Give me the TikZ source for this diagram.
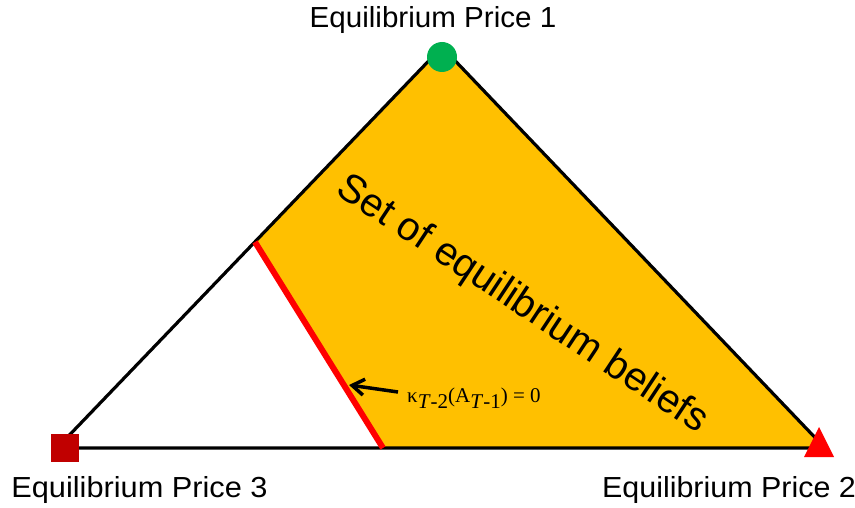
\documentclass[tikz,border=0pt]{standalone}
\usepackage{fontspec}
\setmainfont{Liberation Sans}
\newfontfamily\serifrm{Liberation Serif}
\usetikzlibrary{arrows.meta}
\definecolor{gold}{HTML}{FFC000}
\definecolor{mygreen}{HTML}{00B050}
\definecolor{darkred}{HTML}{C00000}
\definecolor{brightred}{HTML}{FF0000}
\tikzset{
  edge/.style={draw=black, line width=3.2pt, line join=miter},
  cutline/.style={draw=brightred, line width=6pt},
  pricelabel/.style={anchor=base, inner sep=0pt, font=\fontsize{29}{34}\selectfont},
  pointer/.style={draw=black, line width=3.5pt, -{Straight Barb[length=12pt, width=16pt, line width=3.5pt]}},
}
\begin{document}
\begin{tikzpicture}[x=1pt, y=-1pt]
\useasboundingbox (0,0) rectangle (855,508);
\coordinate (A) at (442,47);
\coordinate (L) at (57,448);
\coordinate (R) at (825,448);
\coordinate (P) at (255,242);
\coordinate (Q) at (383,448);
% shaded region
\fill[gold] (P) -- (A) -- (R) -- (Q) -- cycle;
% triangle
\draw[edge] (A) -- (L) -- (R) -- cycle;
% red cut line
\draw[cutline] (P) -- (Q);
% markers
\node[circle, fill=mygreen, minimum size=30pt, inner sep=0pt] (m1) at (442,57) {};
\node[rectangle, fill=darkred, minimum size=28pt, inner sep=0pt] (m3) at (65,448) {};
\fill[brightred] (819,427) -- (834,457) -- (804,457) -- cycle;
% labels
\node[pricelabel, xscale=1.02] (l1) at (433,28) {Equilibrium Price 1};
\node[pricelabel, xscale=1.06] (l3) at (139.5,497) {Equilibrium Price 3};
\node[pricelabel, xscale=1.05] (l2) at (729,497) {Equilibrium Price 2};
\node[rotate=-33.5, inner sep=0pt, font=\fontsize{40}{48}\selectfont] (set) at (522,305) {Set of equilibrium beliefs};
\node[anchor=base west, inner sep=0pt, font=\serifrm\fontsize{21}{24}\selectfont] (kap) at (407,402)
  {κ\raisebox{-0.3em}{\textit{T}-2}(A\raisebox{-0.3em}{\textit{T}-1}) = 0};
\coordinate (tail) at (398,392);
\coordinate (tip) at (349,385);
\draw[pointer] (tail) -- (tip);
\end{tikzpicture}
\end{document}
